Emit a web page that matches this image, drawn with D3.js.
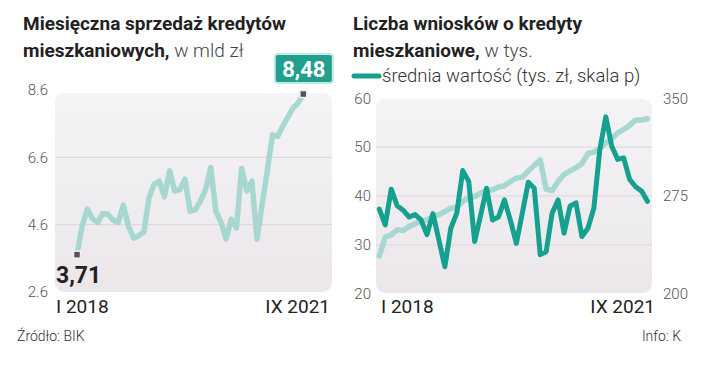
<!DOCTYPE html>
<html><head><meta charset="utf-8">
<script src="https://cdn.jsdelivr.net/npm/d3@7"></script>
<style>
body{margin:0;background:#fff;}
svg{display:block;font-family:Roboto,"Noto Sans",sans-serif;}
</style></head><body>
<svg id="c" width="720" height="380"></svg>
<script>
// ---------- DATA ----------
const monthsSales = ["2018-01","2018-02","2018-03","2018-04","2018-05","2018-06","2018-07","2018-08","2018-09","2018-10","2018-11","2018-12",
"2019-01","2019-02","2019-03","2019-04","2019-05","2019-06","2019-07","2019-08","2019-09","2019-10","2019-11","2019-12",
"2020-01","2020-02","2020-03","2020-04","2020-05","2020-06","2020-07","2020-08","2020-09","2020-10","2020-11","2020-12",
"2021-01","2021-02","2021-03","2021-04","2021-05","2021-06","2021-07","2021-08","2021-09"];
const salesValues = [3.71,4.56,5.06,4.78,4.66,4.93,4.91,4.74,4.66,5.18,4.56,4.20,
4.27,4.38,5.40,5.80,5.89,5.43,6.20,5.60,5.64,5.95,5.00,5.05,
5.30,5.64,6.30,5.00,4.66,4.18,4.76,4.50,6.27,5.60,5.89,4.17,
5.20,6.20,7.27,7.22,7.52,7.79,8.06,8.22,8.48];
const monthsApps = ["p00","p01","p02","p03","p04","p05","p06","p07","p08","p09","p10","p11","p12","p13","p14","p15",
"p16","p17","p18","p19","p20","p21","p22","p23","p24","p25","p26","p27","p28","p29","p30","p31",
"p32","p33","p34","p35","p36","p37","p38","p39","p40","p41","p42","p43","p44","p45"];
const applications = [37.3,34.1,41.4,38.0,37.1,35.7,36.2,35.1,32.1,36.4,31.0,25.5,33.4,36.5,45.2,43.0,
30.7,36.0,41.6,35.1,35.7,39.2,35.0,30.3,36.5,42.8,41.6,28.0,28.6,36.5,39.2,32.4,
37.9,38.6,31.7,33.4,37.5,49.5,56.2,50.2,47.5,47.8,43.4,41.9,41.0,38.9];
const avgValue = [228.9,243.5,245.2,249.0,248.5,251.6,253.7,255.5,256.7,258.9,260.7,263.1,265.6,266.4,270.8,273.4,
274.6,277.1,279.2,279.8,281.9,282.9,286.2,288.7,289.5,294.1,298.5,302.6,280.3,279.2,286.2,291.5,
294.2,296.8,299.8,307.6,308.7,311.3,315.8,318.9,323.5,326.1,329.2,333.3,333.3,334.3];
const salesTicks = [2.6,4.6,6.6,8.6];
const appTicks = [20,30,40,50,60];
const avgTicks = [200,275,350];
const xTickLabels = ["I 2018","IX 2021"];
const labelFirst = "3,71", labelLast = "8,48";

// ---------- STYLE ----------
const LIGHT = "#a7d7d1", DARK = "#15a08f", TXT = "#222", AX = "#555", GRID = "#ddd4da";
const svg = d3.select("#c");
const defs = svg.append("defs");
const grad = defs.append("linearGradient").attr("id","bg").attr("x1",0).attr("y1",0).attr("x2",0).attr("y2",1);
grad.append("stop").attr("offset","0%").attr("stop-color","#f5f3f5");
grad.append("stop").attr("offset","100%").attr("stop-color","#ebe7eb");

function title(x, l1, l2b, l2r){
  svg.append("text").attr("x",x).attr("y",30).attr("font-size",19).attr("font-weight","bold").attr("fill",TXT).text(l1);
  const t = svg.append("text").attr("x",x).attr("y",57).attr("font-size",19).attr("fill",TXT);
  t.append("tspan").attr("font-weight","bold").text(l2b);
  t.append("tspan").attr("font-weight",300).attr("fill","#444").text(l2r);
}
function styleAxis(g){
  g.select(".domain").remove();
  g.selectAll("text").attr("font-size",15).attr("fill",AX).attr("font-family","Roboto,sans-serif").attr("font-weight",300);
}

// ---------- LEFT CHART ----------
title(23, "Miesięczna sprzedaż kredytów", "mieszkaniowych,", " w mld zł");
const xL = d3.scalePoint().domain(monthsSales).range([77,303.3]);
const yL = d3.scaleLinear().domain([2.6,8.6]).range([292,90]);
svg.append("rect").attr("x",55).attr("y",93).attr("width",277).attr("height",199).attr("rx",9).attr("fill","url(#bg)");
svg.append("g").selectAll("line").data(salesTicks.filter(d=>d>2.6&&d<8.6)).join("line")
  .attr("x1",55).attr("x2",332).attr("y1",d=>yL(d)).attr("y2",d=>yL(d)).attr("stroke",GRID).attr("stroke-width",1);
svg.append("g").attr("transform","translate(55,0)")
  .call(d3.axisLeft(yL).tickValues(salesTicks).tickSize(0).tickPadding(7).tickFormat(d3.format(".1f"))).call(styleAxis);
svg.append("path").datum(salesValues).attr("fill","none").attr("stroke",LIGHT).attr("stroke-width",5.5)
  .attr("stroke-linejoin","round").attr("stroke-linecap","round")
  .attr("d", d3.line().x((d,i)=>xL(monthsSales[i])).y(d=>yL(d)));
function marker(x,y){
  svg.append("rect").attr("x",x-3.5).attr("y",y-3.5).attr("width",7).attr("height",7)
    .attr("fill","#555").attr("stroke","#f2f2f2").attr("stroke-width",1.5);
}
const fx = xL(monthsSales[0]), fy = yL(salesValues[0]);
const lx = xL(monthsSales[44]), ly = yL(salesValues[44]);
marker(fx,fy); marker(lx,ly);
svg.append("text").attr("x",56).attr("y",283).attr("font-size",23).attr("font-weight","bold").attr("fill",TXT).text(labelFirst);
svg.append("rect").attr("x",lx-28.5).attr("y",ly-40).attr("width",58).attr("height",29).attr("rx",3)
  .attr("fill","#22a08f").attr("stroke","#c5e8e2").attr("stroke-width",2);
svg.append("text").attr("x",lx+0.5).attr("y",ly-17.5).attr("text-anchor","middle").attr("font-size",22)
  .attr("font-weight","bold").attr("fill","#fff").text(labelLast);
svg.append("text").attr("x",56).attr("y",313).attr("font-size",19).attr("fill",TXT).text(xTickLabels[0]);
svg.append("text").attr("x",330).attr("y",313).attr("text-anchor","end").attr("font-size",19).attr("fill",TXT).text(xTickLabels[1]);

// ---------- RIGHT CHART ----------
title(353, "Liczba wniosków o kredyty", "mieszkaniowe,", " w tys.");
svg.append("line").attr("x1",354).attr("x2",379).attr("y1",76).attr("y2",76).attr("stroke",DARK).attr("stroke-width",5).attr("stroke-linecap","round");
svg.append("text").attr("x",382).attr("y",81.5).attr("font-size",18.5).attr("font-weight",300).attr("fill","#333").text("średnia wartość (tys. zł, skala p)");
const xR = d3.scalePoint().domain(monthsApps).range([379.3,647.5]);
const yR = d3.scaleLinear().domain([20,60]).range([293.7,98.3]);
const yR2 = d3.scaleLinear().domain([200,350]).range([293.7,98.3]);
svg.append("rect").attr("x",376).attr("y",99).attr("width",276).attr("height",194).attr("rx",9).attr("fill","url(#bg)");
svg.append("g").selectAll("line").data(appTicks.filter(d=>d>20&&d<60)).join("line")
  .attr("x1",376).attr("x2",652).attr("y1",d=>yR(d)).attr("y2",d=>yR(d)).attr("stroke",GRID).attr("stroke-width",1);
svg.append("g").attr("transform","translate(376,0)")
  .call(d3.axisLeft(yR).tickValues(appTicks).tickSize(0).tickPadding(5)).call(styleAxis);
svg.append("g").attr("transform","translate(652,0)")
  .call(d3.axisRight(yR2).tickValues(avgTicks).tickSize(0).tickPadding(11)).call(styleAxis);
svg.append("path").datum(avgValue).attr("fill","none").attr("stroke",LIGHT).attr("stroke-width",5.5)
  .attr("stroke-linejoin","round").attr("stroke-linecap","round")
  .attr("d", d3.line().x((d,i)=>xR(monthsApps[i])).y(d=>yR2(d)));
svg.append("path").datum(applications).attr("fill","none").attr("stroke",DARK).attr("stroke-width",5)
  .attr("stroke-linejoin","round").attr("stroke-linecap","round")
  .attr("d", d3.line().x((d,i)=>xR(monthsApps[i])).y(d=>yR(d)));
svg.append("text").attr("x",381).attr("y",313).attr("font-size",19).attr("fill",TXT).text(xTickLabels[0]);
svg.append("text").attr("x",655).attr("y",313).attr("text-anchor","end").attr("font-size",19).attr("fill",TXT).text(xTickLabels[1]);

// ---------- FOOTER ----------
svg.append("text").attr("x",17).attr("y",341).attr("font-size",14).attr("font-weight",300).attr("fill","#333").text("Źródło: BIK");
svg.append("text").attr("x",681).attr("y",341).attr("text-anchor","end").attr("font-size",14).attr("font-weight",300).attr("fill","#333").text("Info: K");
</script></body></html>
